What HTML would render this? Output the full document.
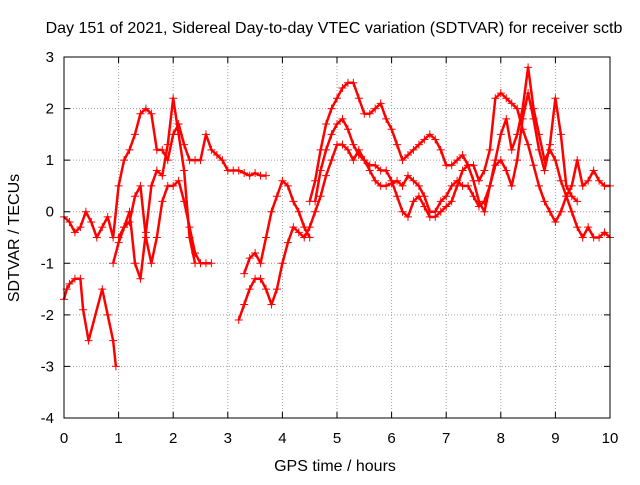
<!DOCTYPE html>
<html><head><meta charset="utf-8"><style>
body{margin:0;background:#fff}
svg text{font-family:"Liberation Sans",sans-serif;font-size:15px;fill:#000}
svg text.big{font-size:16px}
</style></head><body>
<svg id="chart" width="640" height="480" xmlns="http://www.w3.org/2000/svg">
<text class="big" x="334" y="33" text-anchor="middle">Day 151 of 2021, Sidereal Day-to-day VTEC variation (SDTVAR) for receiver sctb</text>
<text class="big" x="335" y="471" text-anchor="middle">GPS time / hours</text>
<text class="big" transform="translate(19,238) rotate(-90)" text-anchor="middle">SDTVAR / TECUs</text>
<g id="grid"></g><g id="series"></g><g id="axes"></g>
</svg>
<script>
const xTicks=[0,1,2,3,4,5,6,7,8,9,10];
const yTicks=[-4,-3,-2,-1,0,1,2,3];
const trackA=[[0,-1.7],[0.05,-1.5],[0.1,-1.4],[0.2,-1.3],[0.3,-1.3],[0.35,-1.9],[0.45,-2.5],[0.7,-1.5],[0.8,-2.0],[0.9,-2.5],[0.95,-3.0]];
const trackB=[[0,-0.1],[0.1,-0.2],[0.2,-0.4],[0.3,-0.3],[0.4,0],[0.5,-0.2],[0.6,-0.5],[0.7,-0.3],[0.8,-0.1],[0.9,-0.5],[1.0,0.5],[1.1,1.0],[1.2,1.2],[1.3,1.5],[1.4,1.9],[1.5,2.0],[1.6,1.9],[1.7,1.2],[1.8,1.2],[1.9,1.0],[2.0,1.5],[2.1,1.7],[2.2,1.3],[2.3,1.0],[2.4,1.0],[2.5,1.0],[2.6,1.5],[2.7,1.2],[2.8,1.1],[2.9,1.0],[3.0,0.8],[3.1,0.8],[3.2,0.8],[3.3,0.75],[3.4,0.7],[3.5,0.75],[3.6,0.7],[3.7,0.7]];
const trackC=[[0.9,-1.0],[1.0,-0.6],[1.1,-0.3],[1.2,-0.2],[1.3,0.3],[1.4,0.5],[1.5,-0.5],[1.6,-1.0],[1.7,-0.5],[1.8,0.2],[1.9,0.5],[2.0,0.5],[2.1,0.6],[2.2,0.2],[2.3,-0.3],[2.4,-0.8],[2.5,-1.0],[2.6,-1.0],[2.7,-1.0]];
const trackD=[[1.0,-0.5],[1.1,-0.3],[1.2,0],[1.3,-1.0],[1.4,-1.3],[1.5,-0.4],[1.6,0.5],[1.7,0.8],[1.8,0.7],[1.9,1.3],[2.0,2.2],[2.1,1.5],[2.2,0.8],[2.3,-0.5],[2.4,-1.0]];
const trackE=[[3.2,-2.1],[3.3,-1.8],[3.4,-1.5],[3.5,-1.3],[3.6,-1.3],[3.7,-1.5],[3.8,-1.8],[3.9,-1.5],[4.0,-1.0],[4.1,-0.6],[4.2,-0.3],[4.3,-0.4],[4.4,-0.5],[4.5,-0.3],[4.6,0.0],[4.7,0.3],[4.8,0.7],[4.9,1.0],[5.0,1.3],[5.1,1.3],[5.2,1.2],[5.3,1.0],[5.4,1.2],[5.5,1.0],[5.6,0.8],[5.7,0.6],[5.8,0.5],[5.9,0.5],[6.0,0.55],[6.1,0.6],[6.2,0.5],[6.3,0.7],[6.4,0.6],[6.5,0.5],[6.6,0.3],[6.7,0],[6.8,0],[6.9,0.2],[7.0,0.3],[7.1,0.5],[7.2,0.6],[7.3,0.5],[7.4,0.5],[7.5,0.3],[7.6,0.1],[7.7,0.2],[7.8,0.5],[7.9,1.0],[8.0,1.5],[8.1,1.8],[8.2,1.2],[8.3,1.5],[8.4,2.0],[8.5,2.8],[8.6,2.0],[8.7,1.5],[8.8,1.0],[8.9,1.2],[9.0,1.0],[9.1,0.6],[9.2,0.3],[9.3,0.5],[9.4,1.0],[9.5,0.5],[9.6,0.6],[9.7,0.8],[9.8,0.6],[9.9,0.5],[10,0.5]];
const trackF=[[3.3,-1.2],[3.4,-0.9],[3.5,-0.8],[3.6,-1.0],[3.7,-0.5],[3.8,0.0],[3.9,0.3],[4.0,0.6],[4.1,0.5],[4.2,0.2],[4.3,0.0],[4.4,-0.3],[4.5,-0.5]];
const trackG=[[4.5,0.2],[4.6,0.6],[4.7,1.2],[4.8,1.7],[4.9,2.0],[5.0,2.2],[5.1,2.4],[5.2,2.5],[5.3,2.5],[5.4,2.2],[5.5,1.9],[5.6,1.9],[5.7,2.0],[5.8,2.1],[5.9,1.8],[6.0,1.6],[6.1,1.3],[6.2,1.0],[6.3,1.1],[6.4,1.2],[6.5,1.3],[6.6,1.4],[6.7,1.5],[6.8,1.4],[6.9,1.2],[7.0,0.9],[7.1,0.9],[7.2,1.0],[7.3,1.1],[7.4,0.9],[7.5,0.9],[7.6,0.6],[7.7,0.8],[7.8,1.2],[7.9,2.2],[8.0,2.3],[8.1,2.2],[8.2,2.1],[8.3,2.0],[8.4,1.6],[8.5,1.3],[8.6,0.9],[8.7,0.5],[8.8,0.2],[8.9,0],[9.0,-0.2],[9.1,0.0],[9.2,0.3],[9.3,0.0],[9.4,-0.3],[9.5,-0.5],[9.6,-0.3],[9.7,-0.5],[9.8,-0.5],[9.9,-0.4],[10,-0.5]];
const trackH=[[4.6,0.2],[4.7,0.8],[4.8,1.2],[4.9,1.5],[5.0,1.7],[5.1,1.8],[5.2,1.6],[5.3,1.3],[5.4,1.1],[5.5,1.0],[5.6,0.9],[5.7,0.9],[5.8,0.8],[5.9,0.8],[6.0,0.6],[6.1,0.3],[6.2,0.0],[6.3,-0.1],[6.4,0.2],[6.5,0.3],[6.6,0.1],[6.7,-0.1],[6.8,-0.1],[6.9,0.0],[7.0,0.1],[7.1,0.2],[7.2,0.5],[7.3,0.8],[7.4,0.9],[7.5,0.6],[7.6,0.2],[7.7,0],[7.8,0.5],[7.9,0.9],[8.0,1.0],[8.1,0.8],[8.2,0.5],[8.3,1.0],[8.4,1.8],[8.5,2.3],[8.6,1.8],[8.7,1.2],[8.8,0.8],[8.9,1.3],[9.0,2.2],[9.1,1.5],[9.2,0.5],[9.3,0.3],[9.4,0.2]];
const tracks=[trackA,trackB,trackC,trackD,trackE,trackF,trackG,trackH];

const L=64,R=610,T=57,B=418,NS="http://www.w3.org/2000/svg";
const sx=v=>L+(v-0)/(10-0)*(R-L);
const sy=v=>B-(v+4)/(3+4)*(B-T);
function mk(tag,attrs,parent){const e=document.createElementNS(NS,tag);for(const k in attrs)e.setAttribute(k,attrs[k]);parent.appendChild(e);return e;}
const grid=document.getElementById('grid'),axes=document.getElementById('axes'),ser=document.getElementById('series');
xTicks.forEach(t=>{
  if(t>0&&t<10){const g=mk('line',{x1:sx(t),x2:sx(t),y1:T,y2:B,stroke:'#a0a0a0','stroke-dasharray':'1,2'},grid);
  
  }
  const tk=mk('path',{d:`M${sx(t)},${B}v-6M${sx(t)},${T}v6`,stroke:'#000'},axes);
  
  
  const lb=mk('text',{x:sx(t),y:B+25,'text-anchor':'middle'},axes);lb.textContent=t;
  
  
});
yTicks.forEach(t=>{
  if(t>-4&&t<3){const g=mk('line',{x1:L,x2:R,y1:sy(t),y2:sy(t),stroke:'#a0a0a0','stroke-dasharray':'1,2'},grid);
  
  }
  const tk=mk('path',{d:`M${L},${sy(t)}h6M${R},${sy(t)}h-6`,stroke:'#000'},axes);
  
  
  const lb=mk('text',{x:L-10,y:sy(t)+5,'text-anchor':'end'},axes);lb.textContent=t;
  
  
});
const fr=mk('rect',{x:L,y:T,width:R-L,height:B-T,fill:'none',stroke:'#000'},axes);


tracks.forEach(tr=>{
  const pl=mk('polyline',{points:tr.map(p=>sx(p[0])+','+sy(p[1])).join(' '),fill:'none',stroke:'#f00','stroke-width':2.5,'stroke-linejoin':'round'},ser);
  
  
  tr.forEach(p=>{
    const m=mk('path',{d:`M${sx(p[0])-4},${sy(p[1])}h8M${sx(p[0])},${sy(p[1])-4}v8`,stroke:'#f00','stroke-width':1},ser);
    
    
  });
});
</script>
</body></html>
